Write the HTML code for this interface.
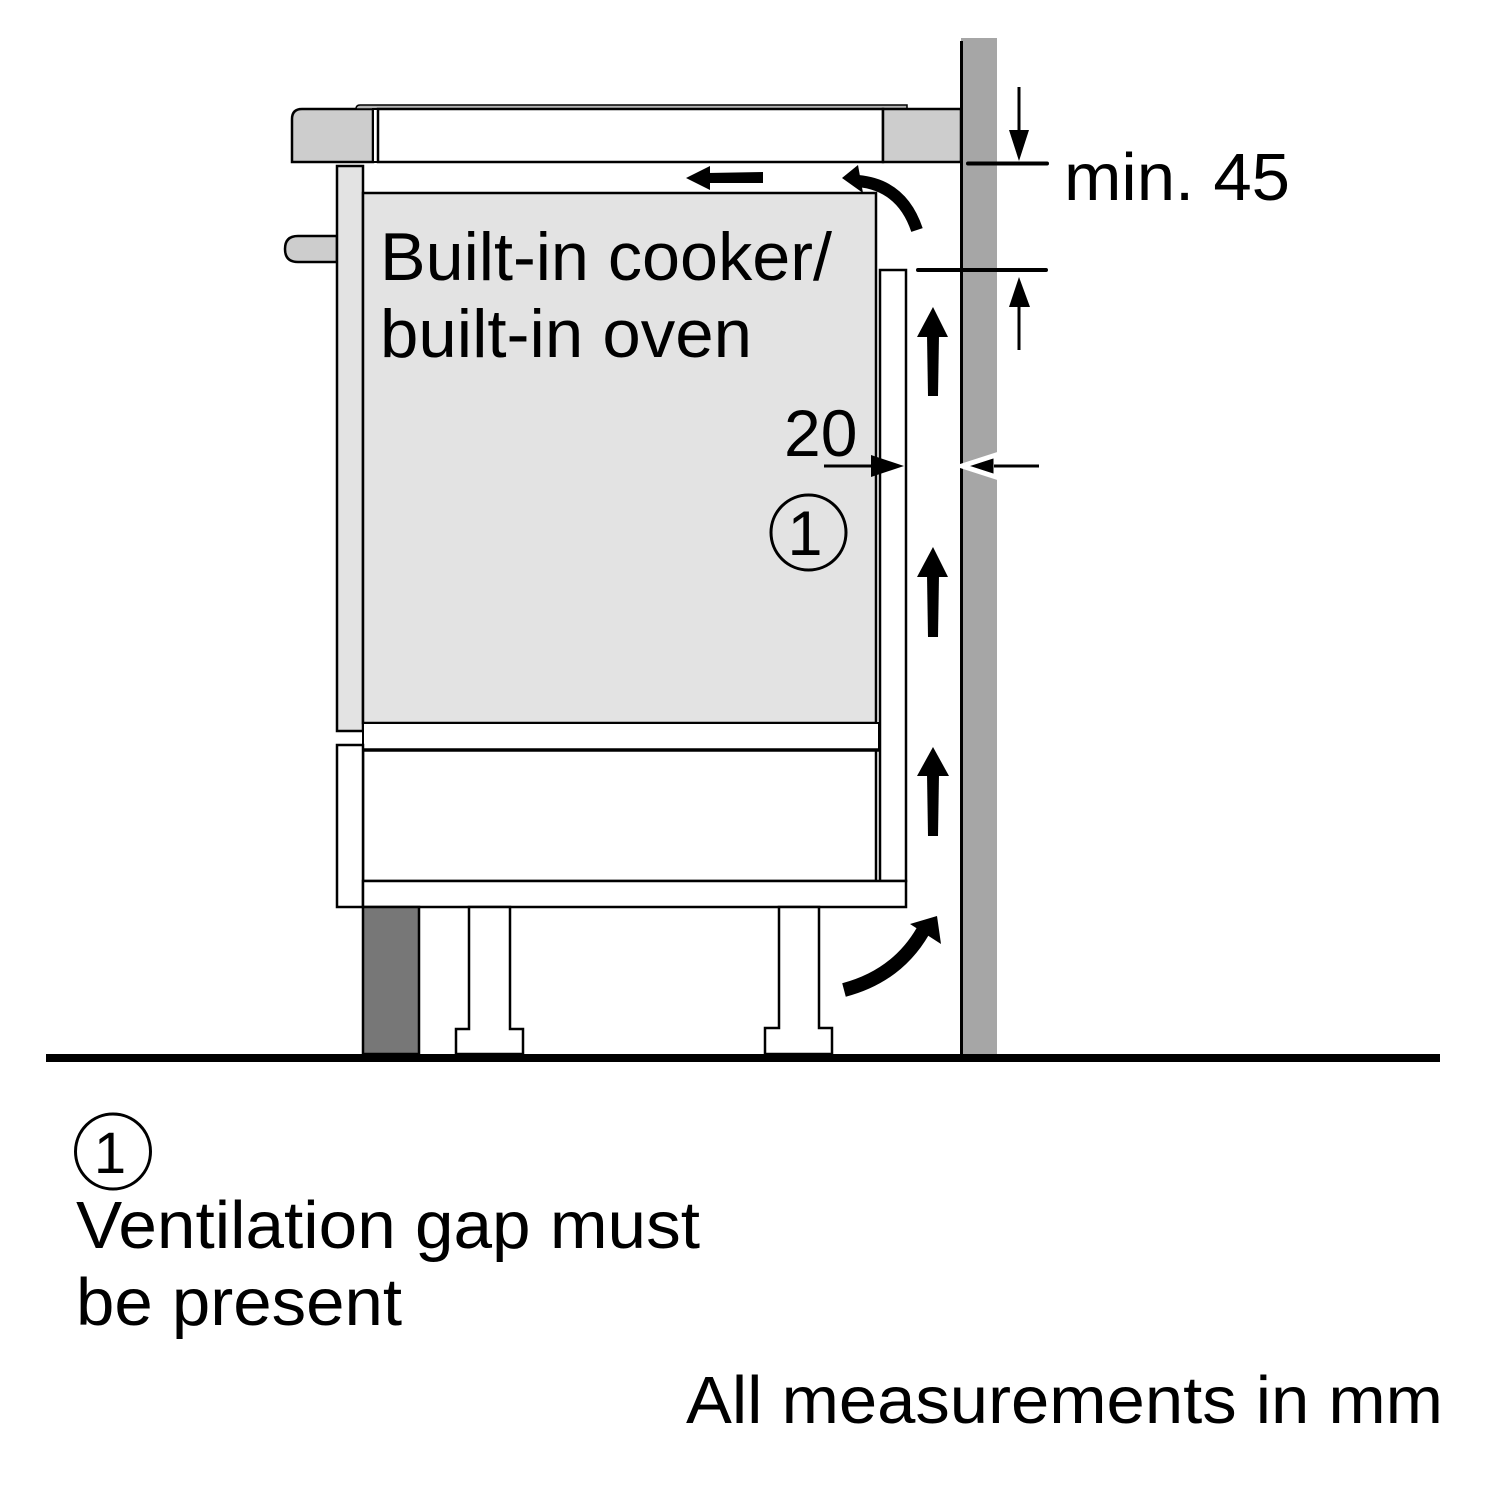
<!DOCTYPE html>
<html>
<head>
<meta charset="utf-8">
<style>
html,body{margin:0;padding:0;background:#fff;}
svg{display:block;}
text{font-family:"Liberation Sans",Arial,sans-serif;fill:#000;}
</style>
</head>
<body>
<svg width="1500" height="1500" viewBox="0 0 1500 1500" xmlns="http://www.w3.org/2000/svg">
<rect x="0" y="0" width="1500" height="1500" fill="#fff"/>

<!-- Wall -->
<rect x="961" y="38" width="36" height="1017" fill="#a6a6a6"/>
<line x1="961.5" y1="41" x2="961.5" y2="1055" stroke="#000" stroke-width="3"/>

<!-- Worktop left -->
<path d="M292 162 L292 119 Q292 109 302 109 L373 109 L373 162 Z" fill="#cdcdcd" stroke="#000" stroke-width="2.5"/>
<!-- glass plate -->
<path d="M360 105 L907 105 L907 109 L356 109 Q356 105 360 105 Z" fill="#b5b5b5" stroke="#000" stroke-width="1.5"/>
<!-- separator -->
<rect x="373" y="109" width="5" height="53" fill="#fff" stroke="#000" stroke-width="2"/>
<!-- hob body -->
<rect x="378" y="109" width="505" height="53" fill="#fff" stroke="#000" stroke-width="2.5"/>
<!-- right worktop -->
<rect x="883" y="109" width="78" height="53" fill="#cdcdcd" stroke="#000" stroke-width="2.5"/>

<!-- handle -->
<path d="M337 236 L298 236 Q285 236 285 249 Q285 262 298 262 L337 262 Z" fill="#cdcdcd" stroke="#000" stroke-width="2.5"/>
<!-- front panel upper -->
<rect x="337" y="166" width="26" height="565" fill="#e3e3e3" stroke="#000" stroke-width="2.5"/>
<!-- oven box -->
<rect x="363" y="193" width="513" height="530" fill="#e3e3e3" stroke="#000" stroke-width="2.5"/>
<!-- strip below oven -->
<rect x="363" y="723" width="516" height="27" fill="#fff" stroke="#000" stroke-width="2"/>
<!-- drawer -->
<rect x="363" y="750" width="513" height="131" fill="#fff" stroke="#000" stroke-width="2.5"/>
<line x1="363" y1="750" x2="880" y2="750" stroke="#000" stroke-width="3.5"/>
<!-- narrow side panel -->
<rect x="880" y="270" width="26" height="611" fill="#fff" stroke="#000" stroke-width="2.5"/>
<!-- lower front panel -->
<rect x="337" y="745" width="26" height="162" fill="#fff" stroke="#000" stroke-width="2.5"/>
<!-- plinth strip -->
<rect x="363" y="881" width="543" height="26" fill="#fff" stroke="#000" stroke-width="2.5"/>
<!-- dark plinth -->
<rect x="363" y="907" width="56" height="147" fill="#777" stroke="#000" stroke-width="2.5"/>
<!-- legs -->
<polygon points="469,907 510,907 510,1029 523,1029 523,1054 456,1054 456,1029 469,1029" fill="#fff" stroke="#000" stroke-width="2.5"/>
<polygon points="779,907 819,907 819,1028 832,1028 832,1054 765,1054 765,1028 779,1028" fill="#fff" stroke="#000" stroke-width="2.5"/>
<!-- floor -->
<rect x="46" y="1054" width="1394" height="8" fill="#000"/>

<!-- top horizontal arrow -->
<polygon points="686,178 710,166 710,190" fill="#000"/>
<polygon points="707,173 763,172 763,183 707,183" fill="#000"/>
<!-- top curved arrow -->
<path d="M858 181 Q902 185 917 230" fill="none" stroke="#000" stroke-width="12"/>
<polygon points="842,178 858,165 863,193" fill="#000"/>
<!-- bottom curved arrow -->
<path d="M844 990 Q897 976 923 931" fill="none" stroke="#000" stroke-width="14"/>
<polygon points="937,916 910,924 941,944" fill="#000"/>

<!-- vertical up arrows -->
<polygon points="933,307 948,337 917,337" fill="#000"/>
<polygon points="927,335 939,335 938,396 928,396" fill="#000"/>
<polygon points="933,547 948,577 917,577" fill="#000"/>
<polygon points="927,575 939,575 938,637 928,637" fill="#000"/>
<polygon points="933,747 949,776 917,776" fill="#000"/>
<polygon points="927,774 939,774 938,836 928,836" fill="#000"/>

<!-- dimension min. 45 -->
<line x1="1019" y1="87" x2="1019" y2="132" stroke="#000" stroke-width="3"/>
<polygon points="1019,161 1009,130 1029,130" fill="#000"/>
<line x1="968" y1="163.5" x2="1047" y2="163.5" stroke="#000" stroke-width="4" stroke-linecap="round"/>
<line x1="918" y1="270" x2="1046" y2="270" stroke="#000" stroke-width="4" stroke-linecap="round"/>
<polygon points="1019,277 1009,307 1030,307" fill="#000"/>
<line x1="1019" y1="305" x2="1019" y2="350" stroke="#000" stroke-width="3"/>

<!-- dimension 20 -->
<line x1="824" y1="466" x2="874" y2="466" stroke="#000" stroke-width="3"/>
<polygon points="904,466 871,455 871,477" fill="#000"/>
<polygon points="962,466 996,455 996,477" fill="#000" stroke="#fff" stroke-width="5" stroke-linejoin="miter"/>
<line x1="994" y1="466" x2="1039" y2="466" stroke="#000" stroke-width="3"/>

<!-- circle 1 in diagram -->
<circle cx="808.5" cy="532.5" r="37.5" fill="none" stroke="#000" stroke-width="3"/>
<text x="805" y="555" font-size="63" text-anchor="middle">1</text>

<!-- labels -->
<text x="380" y="280" font-size="68" textLength="452" lengthAdjust="spacingAndGlyphs">Built-in cooker/</text>
<text x="380" y="357" font-size="68" textLength="372" lengthAdjust="spacingAndGlyphs">built-in oven</text>
<text x="1064" y="200" font-size="67" textLength="226" lengthAdjust="spacingAndGlyphs">min. 45</text>
<text x="784" y="456" font-size="66">20</text>

<!-- legend -->
<circle cx="113" cy="1151.5" r="37.5" fill="none" stroke="#000" stroke-width="3"/>
<text x="110" y="1173" font-size="58" text-anchor="middle">1</text>
<text x="76" y="1248" font-size="67" textLength="624" lengthAdjust="spacingAndGlyphs">Ventilation gap must</text>
<text x="76" y="1325" font-size="67" textLength="326" lengthAdjust="spacingAndGlyphs">be present</text>
<text x="686" y="1423" font-size="67" textLength="757" lengthAdjust="spacingAndGlyphs">All measurements in mm</text>
</svg>
</body>
</html>
